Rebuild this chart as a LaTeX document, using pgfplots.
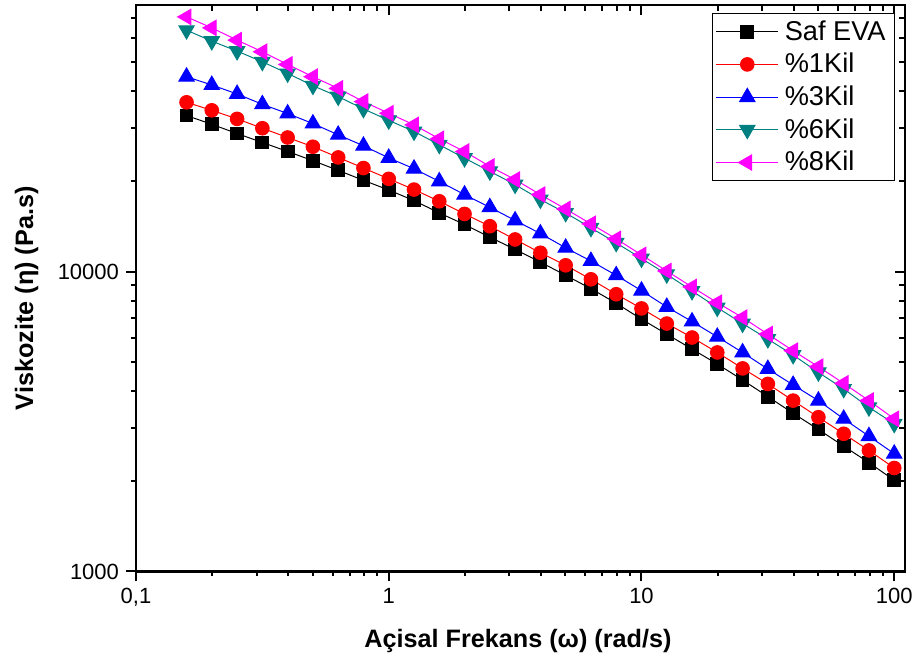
\documentclass[border=0pt]{standalone}
\usepackage{fontspec}
\setmainfont{Liberation Sans}
\usepackage{pgfplots}
\usepackage{pgfplotstable}
\pgfplotsset{compat=1.18}
\definecolor{tealc}{RGB}{0,128,128}
\definecolor{magc}{RGB}{255,0,255}

% frequency (rad/s) and complex viscosity (Pa.s)
\pgfplotstableread{
x      eva    k1     k3     k6     k8
0.1585 33110  36660  44620  63770  70620
0.1995 30970  34470  41870  58640  64920
0.2512 28840  32280  39090  54310  59090
0.3162 26930  30040  36100  50040  54030
0.3981 25130  27980  33630  45760  49020
0.5012 23420  26060  31140  41650  44620
0.6310 21740  24010  28560  38300  40790
0.7943 20140  22130  26260  34850  36860
1.0000 18700  20370  23920  31920  33710
1.259  17240  18760  22020  29300  30830
1.585  15680  17150  19980  26460  27700
1.995  14350  15560  18050  23880  25130
2.512  13020  14160  16380  21580  22410
3.162  11850  12790  14800  19490  20250
3.981  10750  11550  13390  17380  18050
5.012  9714   10490  11996  15680  16160
6.310  8767   9421   10840  13980  14420
7.943  7840   8400   9714   12460  12850
10.00  6937   7534   8635   11050  11360
12.59  6184   6708   7620   9788   10040
15.85  5514   6026   6812   8614   8882
19.95  4916   5373   6058   7580   7876
25.12  4350   4754   5373   6708   7023
31.62  3828   4220   4732   5953   6184
39.81  3370   3713   4188   5268   5444
50.12  2974   3268   3713   4611   4816
63.10  2618   2878   3228   4061   4238
79.43  2306   2533   2826   3527   3713
100.0  2014   2213   2470   3107   3228
}\datatable

\pgfplotsset{
  visc/.style={
    scale only axis, width=384.5pt, height=283.25pt,
    xmin=0.1, xmax=110.3, ymin=1000, ymax=77400,
    xtick={0.1,1,10,100}, ytick={1000,10000},
    minor xtick={0.2,0.3,0.4,0.5,0.6,0.7,0.8,0.9,2,3,4,5,6,7,8,9,20,30,40,50,60,70,80,90},
    minor ytick={2000,3000,4000,5000,6000,7000,8000,9000,20000,30000,40000,50000,60000,70000},
    axis line style={line width=1.2pt},
    tick style={line width=1pt, black},
  }
}

\begin{document}
\begin{tikzpicture}
% mirror axis: ticks on top and right, pointing inwards
\begin{loglogaxis}[visc,
    xtick pos=right, ytick pos=right, tick align=inside,
    major tick length=5pt, minor tick length=3pt,
    xticklabels={}, yticklabels={}]
\end{loglogaxis}

\begin{loglogaxis}[visc,
    xtick pos=left, ytick pos=left, tick align=outside,
    major tick length=5pt, minor tick length=2.3pt,
    xticklabels={{0,1},{1},{10},{100}},
    yticklabels={{1000},{10000}},
    ticklabel style={font=\fontsize{11}{13}\selectfont},
    xlabel={\textbf{Açisal Frekans (ω) (rad/s)}},
    ylabel={\textbf{Viskozite (η) (Pa.s)}},
    label style={font=\fontsize{12.6}{15}\selectfont},
    xlabel style={at={(axis description cs:0.4967,-0.1333)}, anchor=base},
    ylabel style={at={(axis description cs:-0.1339,0.4823)}, anchor=base},
    legend cell align=left,
    legend style={at={(1,1)}, anchor=north east, xshift=-5pt, yshift=-4pt,
      draw=black, fill=white, font=\fontsize{13.6}{16}\selectfont,
      inner xsep=1.5pt, inner ysep=1.5pt, row sep=1pt,
      nodes={inner xsep=3pt}},
    legend image code/.code={
      \draw[mark repeat=2, mark phase=2, #1] plot coordinates {(0pt,0pt) (15.5pt,0pt) (31pt,0pt)};
    },
    every axis plot/.append style={line width=0.5pt},
  ]
\addplot[black, mark=square*, mark size=3.2pt, mark options={solid}] table[x=x, y=eva] {\datatable};
\addlegendentry{Saf EVA}
\addplot[red, mark=*, mark size=3.4pt, mark options={solid}] table[x=x, y=k1] {\datatable};
\addlegendentry{\%1Kil}
\addplot[blue, mark=triangle*, mark size=4.4pt, mark options={solid}] table[x=x, y=k3] {\datatable};
\addlegendentry{\%3Kil}
\addplot[tealc, mark=triangle*, mark size=4.4pt, mark options={solid, rotate=180}] table[x=x, y=k6] {\datatable};
\addlegendentry{\%6Kil}
\addplot[magc, mark=triangle*, mark size=4.4pt, mark options={solid, rotate=90}] table[x=x, y=k8] {\datatable};
\addlegendentry{\%8Kil}
\end{loglogaxis}
\pgfresetboundingbox
\path[use as bounding box] (-68pt,-45.25pt) rectangle (389.5pt,285.75pt);
\end{tikzpicture}
\end{document}
